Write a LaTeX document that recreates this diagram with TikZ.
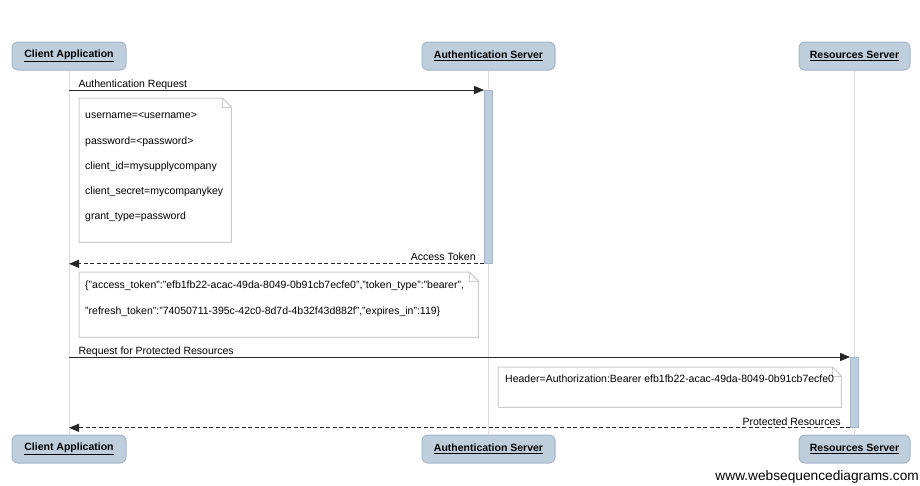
\documentclass[tikz,border=0pt]{standalone}
\usepackage{fontspec}
\setmainfont{Liberation Sans}
\usepackage{xcolor}
\usepackage{tikz}
\usetikzlibrary{arrows.meta,positioning,matrix}
\definecolor{actorfill}{HTML}{BFCEDD}
\definecolor{actorline}{HTML}{A3B6CC}
\definecolor{lifegrey}{HTML}{DDDDDD}
\definecolor{notegrey}{HTML}{CCCCCC}
\newcommand{\actorname}[1]{\underline{\textbf{#1}}}

\begin{document}
\begin{tikzpicture}[
    x=1pt, y=-1pt,
    font=\fontsize{10.5}{12.6}\selectfont,
    actor/.style={rectangle, rounded corners=6pt, draw=actorline, fill=actorfill, line width=1pt, minimum height=28pt, inner sep=0},
    lifeline/.style={draw=lifegrey, line width=1pt},
    activation/.style={rectangle, draw=actorline, fill=actorfill, line width=0.8pt, minimum width=8pt, inner sep=0},
    msgline/.style={draw=black!85, line width=1pt, -{Triangle[length=10pt,width=8pt]}},
    replyline/.style={msgline, dash pattern=on 4pt off 2.5pt},
    msglabel/.style={inner sep=0},
    notebox/.style={rectangle, fill=white, inner sep=0, anchor=north west},
    noteline/.style={draw=notegrey, line width=1pt},
    notelines/.style={
        matrix of nodes,
        inner sep=0,
        nodes={anchor=base west, inner sep=0, text height=8pt, text depth=2pt}}
  ]
\useasboundingbox (0,0) rectangle (920,485);

% participants
\node[actor, minimum width=114pt] (ClientTop) at (69,56)    {\actorname{Client Application}};
\node[actor, minimum width=133pt] (AuthTop)   at (488.5,56) {\actorname{Authentication Server}};
\node[actor, minimum width=111pt] (ResTop)    at (854.5,56) {\actorname{Resources Server}};
\node[actor, minimum width=114pt] (ClientBot) at (69,449)    {\actorname{Client Application}};
\node[actor, minimum width=133pt] (AuthBot)   at (488.5,449) {\actorname{Authentication Server}};
\node[actor, minimum width=111pt] (ResBot)    at (854.5,449) {\actorname{Resources Server}};

\path[lifeline] (ClientTop) -- (ClientBot);
\path[lifeline] (AuthTop) -- (AuthBot);
\path[lifeline] (ResTop) -- (ResBot);

% activations
\node[activation, minimum height=173pt, anchor=north] (act1) at (488.5,90) {};
\node[activation, minimum height=70pt, anchor=north] (act2) at (854.5,357) {};

% note 1
\node[notebox, minimum width=152pt, minimum height=144pt] (note1) at (79,98) {};
\path[noteline] (note1.south west) |- ([xshift=-9pt]note1.north east) -- ([yshift=-9pt]note1.north east) |- (note1.south west);
\path[noteline] ([xshift=-9pt]note1.north east) |- ([yshift=-9pt]note1.north east);
\matrix[notelines, row sep=15.3pt, below right=12.5pt and 6pt of note1.north west] (note1text) {
username=<username> \\
password=<password> \\
client\_id=mysupplycompany \\
client\_secret=mycompanykey \\
grant\_type=password \\
};

% note 2
\node[notebox, minimum width=399pt, minimum height=65pt] (note2) at (79,272) {};
\path[noteline] (note2.south west) |- ([xshift=-9pt]note2.north east) -- ([yshift=-9pt]note2.north east) |- (note2.south west);
\path[noteline] ([xshift=-9pt]note2.north east) |- ([yshift=-9pt]note2.north east);
\matrix[notelines, row sep=16pt, below right=8.5pt and 6pt of note2.north west] (note2text) {
\{"access\_token":"efb1fb22-acac-49da-8049-0b91cb7ecfe0","token\_type":"bearer", \\
"refresh\_token":"74050711-395c-42c0-8d7d-4b32f43d882f","expires\_in":119\} \\
};

% note 3
\node[notebox, minimum width=343pt, minimum height=40pt] (note3) at (498,367) {};
\path[noteline] (note3.south west) |- ([xshift=-9pt]note3.north east) -- ([yshift=-9pt]note3.north east) |- (note3.south west);
\path[noteline] ([xshift=-9pt]note3.north east) |- ([yshift=-9pt]note3.north east);
\matrix[notelines, below right=7.5pt and 7pt of note3.north west] (note3text) {
Header=Authorization:Bearer efb1fb22-acac-49da-8049-0b91cb7ecfe0 \\
};

% messages
\path[msgline] (ClientTop |- act1.north) -- node[msglabel, pos=0, anchor=base west, xshift=9pt, yshift=2.5pt] {Authentication Request} (act1.north west);
\path[replyline] (act1.south west) -- node[msglabel, pos=0, anchor=base east, xshift=-8pt, yshift=3pt] {Access Token} (ClientTop |- act1.south);
\path[msgline] (ClientTop |- act2.north) -- node[msglabel, pos=0, anchor=base west, xshift=9pt, yshift=2.5pt] {Request for Protected Resources} (act2.north west);
\path[replyline] (act2.south west) -- node[msglabel, pos=0, anchor=base east, xshift=-9pt, yshift=2.5pt] {Protected Resources} (ClientTop |- act2.south);

\node[anchor=base east, inner sep=0, font=\fontsize{13.7}{16}\selectfont] (credit) at (919,480.5) {www.websequencediagrams.com};

\end{tikzpicture}
\end{document}
